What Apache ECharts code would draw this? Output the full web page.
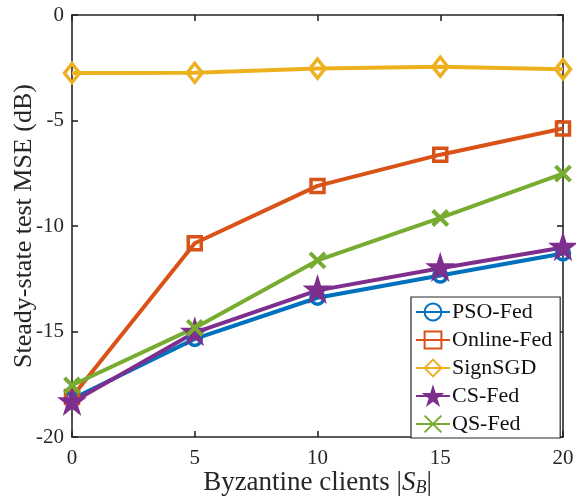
<!DOCTYPE html>
<html>
<head>
<meta charset="utf-8">
<script src="https://cdn.jsdelivr.net/npm/echarts@6/dist/echarts.min.js"></script>
<style>
  html, body { margin: 0; padding: 0; background: #fff; }
  #chart { width: 576px; height: 496px; }
</style>
</head>
<body>
<div id="chart"></div>
<script>
// Number of Byzantine clients
const clients = [0, 5, 10, 15, 20];

// Steady-state test MSE (dB) per method
const psoFed    = [-18.2, -15.35, -13.4, -12.35, -11.3];
const onlineFed = [-18.1, -10.82, -8.1, -6.62, -5.38];
const signSGD   = [-2.75, -2.74, -2.54, -2.45, -2.57];
const csFed     = [-18.35, -15.05, -13.05, -12.0, -11.02];
const qsFed     = [-17.55, -14.83, -11.63, -9.62, -7.52];

const xTicks = [0, 5, 10, 15, 20];
const yTicks = [-20, -15, -10, -5, 0];

const colors = {
  pso: '#0072BD',
  online: '#D95319',
  sign: '#EDB120',
  cs: '#7E2F8E',
  qs: '#77AC30'
};

const STAR = 'path://M0,-100 L22.45,-30.9 L95.1,-30.9 L36.3,11.8 L58.8,80.9 L0,38.2 L-58.8,80.9 L-36.3,11.8 L-95.1,-30.9 L-22.45,-30.9 Z';
const CROSS = 'path://M0,0 L100,100 M100,0 L0,100';

const serif = '"Liberation Serif", "DejaVu Serif", serif';
const ink = '#262626';

function pairs(ys) {
  return clients.map((x, i) => [x, ys[i]]);
}

function lineSeries(name, ys, color, symbol, size, opts) {
  return Object.assign({
    name: name,
    type: 'line',
    data: pairs(ys),
    symbol: symbol,
    symbolSize: size,
    showAllSymbol: true,
    lineStyle: { color: color, width: 4 },
    itemStyle: { color: 'rgba(255,255,255,0)', borderColor: color, borderWidth: 3.5 },
    emphasis: { disabled: true },
    animation: false
  }, opts || {});
}

const chart = echarts.init(document.getElementById('chart'), null, { renderer: 'canvas' });

const boxAxisLine = { show: true, onZero: false, lineStyle: { color: ink, width: 1.6 } };
const boxTick = { show: true, inside: true, length: 6, lineStyle: { color: ink, width: 1.6 } };

chart.setOption({
  backgroundColor: '#fff',
  textStyle: { fontFamily: serif },
  grid: { left: 72, right: 13, top: 15, bottom: 59, outerBoundsMode: 'none', containLabel: false },
  xAxis: [{
    type: 'value',
    min: 0, max: 20, interval: 5,
    name: 'Byzantine clients |{it|S}{sub|B}|',
    nameLocation: 'middle',
    nameGap: 32,
    nameMoveOverlap: false,
    nameTextStyle: {
      fontFamily: serif, fontSize: 27, color: ink,
      rich: {
        it: { fontFamily: serif, fontStyle: 'italic', fontSize: 27, color: ink },
        sub: { fontFamily: serif, fontStyle: 'italic', fontSize: 18, color: ink, verticalAlign: 'bottom', padding: [10, 0, 0, 0] }
      }
    },
    axisLine: boxAxisLine,
    axisTick: boxTick,
    axisLabel: { color: ink, fontSize: 21, margin: 11, fontFamily: serif,
                 formatter: v => xTicks.includes(v) ? String(v) : '' },
    splitLine: { show: false }
  }, {
    type: 'value', position: 'top',
    min: 0, max: 20, interval: 5,
    axisLine: boxAxisLine,
    axisTick: boxTick,
    axisLabel: { show: false },
    splitLine: { show: false }
  }],
  yAxis: [{
    type: 'value',
    min: -20, max: 0, interval: 5,
    name: 'Steady-state test MSE (dB)',
    nameLocation: 'middle',
    nameGap: 35,
    nameMoveOverlap: false,
    nameTextStyle: { fontFamily: serif, fontSize: 26, color: ink },
    axisLine: boxAxisLine,
    axisTick: boxTick,
    axisLabel: { color: ink, fontSize: 21, margin: 8, fontFamily: serif,
                 formatter: v => yTicks.includes(v) ? String(v) : '' },
    splitLine: { show: false }
  }, {
    type: 'value', position: 'right',
    min: -20, max: 0, interval: 5,
    axisLine: boxAxisLine,
    axisTick: boxTick,
    axisLabel: { show: false },
    splitLine: { show: false }
  }],
  legend: {
    orient: 'vertical',
    left: 411, top: 297,
    padding: [4, 8, 3, 4],
    itemGap: 6,
    itemWidth: 34,
    itemHeight: 21,
    backgroundColor: '#fff',
    borderColor: ink,
    borderWidth: 1.2,
    borderRadius: 0,
    textStyle: { fontFamily: serif, fontSize: 22, color: '#111', padding: [0, 0, 0, -3] },
    data: ['PSO-Fed', 'Online-Fed', 'SignSGD', 'CS-Fed', 'QS-Fed']
  },
  series: [
    lineSeries('PSO-Fed', psoFed, colors.pso, 'circle', 13),
    lineSeries('Online-Fed', onlineFed, colors.online, 'rect', 13),
    lineSeries('SignSGD', signSGD, colors.sign, 'diamond', [15, 19]),
    lineSeries('CS-Fed', csFed, colors.cs, STAR, 24, {
      symbolOffset: [0, -1],
      itemStyle: { color: colors.cs, borderColor: colors.cs, borderWidth: 2 }
    }),
    lineSeries('QS-Fed', qsFed, colors.qs, CROSS, 15, {
      itemStyle: { color: 'rgba(255,255,255,0)', borderColor: colors.qs, borderWidth: 4 }
    })
  ]
});
</script>
</body>
</html>
